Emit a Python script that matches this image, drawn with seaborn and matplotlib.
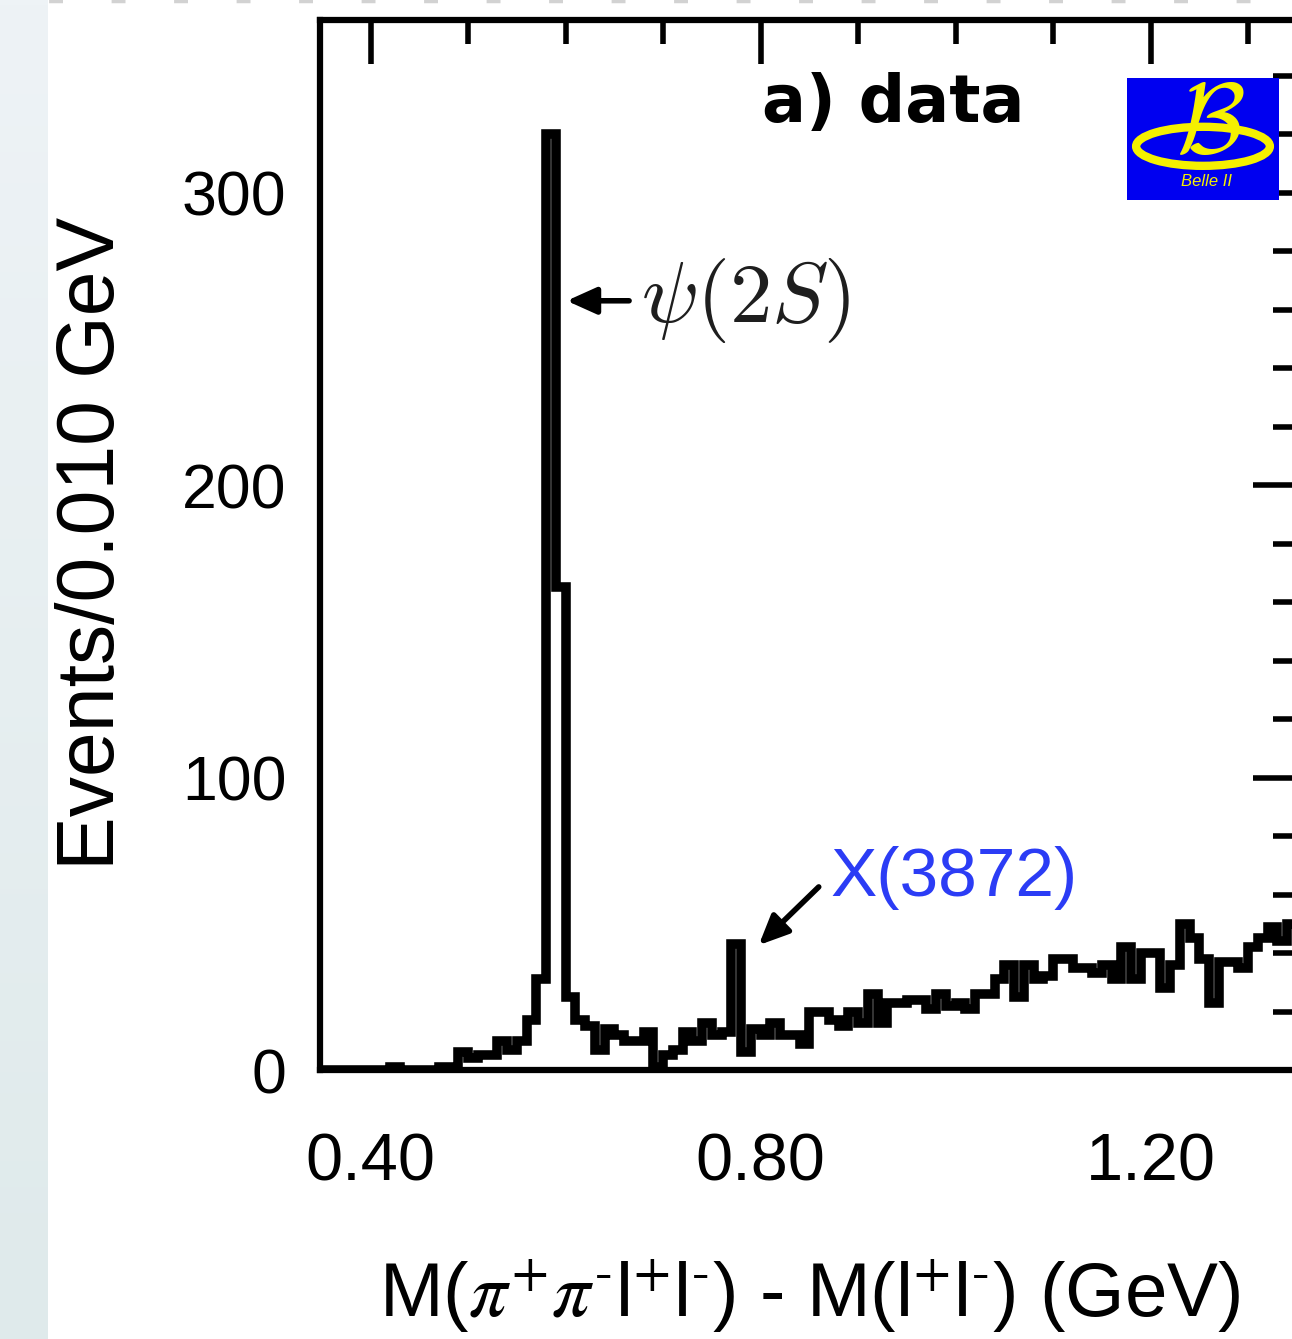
import numpy as np
import pandas as pd
import matplotlib
matplotlib.use("Agg")
import matplotlib.pyplot as plt
import seaborn as sns
from matplotlib.patches import Rectangle, Ellipse
from matplotlib.lines import Line2D
from matplotlib.ticker import MultipleLocator, FixedLocator
from matplotlib.colors import LinearSegmentedColormap

# ---------------- data ----------------
bin_start = 0.35
bin_width = 0.01
counts = [
    0, 0, 0, 0, 0, 0, 0, 1, 0, 0,          # 0.35 - 0.44
    0, 0, 1, 0, 6, 4, 5, 5, 10, 7,         # 0.45 - 0.54
    10, 17, 31, 320, 165, 25, 17, 15, 7, 14,   # 0.55 - 0.64
    12, 10, 10, 13, 1, 5, 7, 13, 10, 16,   # 0.65 - 0.74
    12, 13, 43, 6, 14, 12, 16, 12, 12, 9,  # 0.75 - 0.84
    20, 20, 17, 15, 20, 16, 26, 16, 23, 23,  # 0.85 - 0.94
    24, 24, 21, 26, 22, 23, 21, 26, 26, 31,  # 0.95 - 1.04
    36, 25, 36, 31, 32, 38, 38, 35, 35, 33,  # 1.05 - 1.14
    36, 31, 42, 31, 40, 40, 28, 36, 50, 45,  # 1.15 - 1.24
    38, 23, 37, 37, 35, 42, 45, 49, 44, 50,  # 1.25 - 1.34
]
x_tick_values = [0.40, 0.80, 1.20]
x_tick_labels = ["0.40", "0.80", "1.20"]
y_tick_values = [0, 100, 200, 300]
y_tick_labels = ["0", "100", "200", "300"]
psi_label = r"$\psi(2S)$"
x_label_text = "X(3872)"
panel_label = "a) data"
y_axis_label = "Events/0.010 GeV"
x_axis_label = (r"M($\pi^{+}\pi^{\text{-}}$l$^{+}$l$^{\text{-}}$) - "
                r"M(l$^{+}$l$^{\text{-}}$) (GeV)")

edges = [round(bin_start + bin_width * i, 3) for i in range(len(counts) + 1)]
centers = [e + bin_width / 2 for e in edges[:-1]]
df = pd.DataFrame({"mass": centers, "events": counts})

# ---------------- style ----------------
sns.set_style("white")
plt.rcParams["font.family"] = ["Liberation Sans", "DejaVu Sans"]
plt.rcParams["mathtext.fontset"] = "custom"
plt.rcParams["mathtext.rm"] = "Liberation Sans"
plt.rcParams["mathtext.it"] = "Liberation Sans:italic"
plt.rcParams["mathtext.bf"] = "Liberation Sans:bold"
plt.rcParams["text.color"] = "black"
plt.rcParams["axes.labelcolor"] = "black"
plt.rcParams["xtick.color"] = "black"
plt.rcParams["ytick.color"] = "black"
plt.rcParams["xtick.labelcolor"] = "black"
plt.rcParams["ytick.labelcolor"] = "black"

W, H = 1292, 1339
fig = plt.figure(figsize=(W / 100, H / 100), dpi=100)
fig.patch.set_facecolor("white")

# slide background strip on the left
bg = fig.add_axes([0, 0, 48 / W, 1])
grad = np.linspace(0, 1, 256).reshape(-1, 1)
cm_bg = LinearSegmentedColormap.from_list("bg", ["#dfeaeb", "#eef3f6"])
bg.imshow(grad, aspect="auto", cmap=cm_bg, origin="lower", extent=[0, 1, 0, 1])
bg.set_axis_off()

# dotted decoration at the very top
fig.add_artist(Line2D([0, 1], [1 - 1.0 / H, 1 - 1.0 / H], transform=fig.transFigure,
                      color="#d2d2d2", lw=2.5, linestyle=(4, (4, 14))))

ax = fig.add_axes([320 / W, (H - 1070) / H, 977 / W, 1050 / H])
ax.set_facecolor("white")

sns.histplot(data=df, x="mass", weights="events", bins=edges, element="step",
             fill=False, color="black", linewidth=6.9, ax=ax,
             solid_joinstyle="miter", solid_capstyle="butt")

ax.set_xlim(0.348, 1.35)
ax.set_ylim(0, 359)

# ticks
ax.xaxis.set_major_locator(FixedLocator(x_tick_values))
ax.set_xticklabels(x_tick_labels)
ax.xaxis.set_minor_locator(MultipleLocator(0.1))
ax.yaxis.set_major_locator(FixedLocator(y_tick_values))
ax.set_yticklabels(y_tick_labels)
ax.yaxis.set_minor_locator(MultipleLocator(20))

ax.tick_params(which="both", direction="in", top=True, right=True, color="black",
               labelcolor="black")
ax.tick_params(which="major", length=32, width=4.0)
ax.tick_params(which="minor", length=17, width=4.0)
ax.tick_params(axis="x", which="major", labelsize=48, pad=45)
ax.tick_params(axis="y", which="major", labelsize=45, pad=24)

for sp in ax.spines.values():
    sp.set_visible(True)
    sp.set_linewidth(4.5)
    sp.set_color("black")

ax.set_xlabel(x_axis_label, fontsize=55, math_fontfamily="stix", color="black")
ax.xaxis.set_label_coords(0.5015, -0.178)
ax.set_ylabel(y_axis_label, fontsize=58, color="black")
ax.yaxis.set_label_coords(-0.193, 0.502)

# panel label
ax.text(0.5865, 0.920, panel_label, transform=ax.transAxes, fontsize=47,
        fontweight="bold", family="DejaVu Sans", ha="center", va="center",
        color="black")

# psi(2S) annotation
ax.annotate("", xy=(0.601, 263), xytext=(0.665, 263),
            arrowprops=dict(arrowstyle="-|>,head_length=1.0,head_width=0.45",
                            mutation_scale=18, lw=4, color="black",
                            shrinkA=0, shrinkB=0))
ax.text(0.677, 263, psi_label, fontsize=61, color="#1e1e1e", ha="left", va="center",
        math_fontfamily="cm")

# X(3872) annotation
ax.annotate("", xy=(0.798, 42.7), xytext=(0.8595, 62.6),
            arrowprops=dict(arrowstyle="-|>,head_length=1.0,head_width=0.45",
                            mutation_scale=18, lw=4, color="black",
                            shrinkA=0, shrinkB=0))
ax.text(0.871, 65.5, x_label_text, fontsize=50, color="#2b3cf5", ha="left", va="center")

# Belle II logo
lx0, ly0, lw_, lh_ = (1127 - 320) / 977, (1070 - 200) / 1050, 152 / 977, 122 / 1050
ax.add_patch(Rectangle((lx0, ly0), lw_, lh_, transform=ax.transAxes,
                       facecolor="#0000f0", edgecolor="none", zorder=5, clip_on=False))
ax.add_patch(Ellipse((lx0 + lw_ * 0.5, ly0 + lh_ * 0.44), lw_ * 0.88, lh_ * 0.32,
                     transform=ax.transAxes, facecolor="none", edgecolor="#f5f000",
                     lw=6, zorder=6, clip_on=False))
ax.text(lx0 + lw_ * 0.55, ly0 + lh_ * 0.60, r"$\mathcal{B}$", transform=ax.transAxes,
        fontsize=72, color="#f5f000", ha="center", va="center", zorder=7,
        math_fontfamily="cm")
ax.text(lx0 + lw_ * 0.52, ly0 + lh_ * 0.15, "Belle II", transform=ax.transAxes,
        fontsize=12, color="#f5f000", style="italic", ha="center", va="center", zorder=7)

fig.savefig("out.png", dpi=100, facecolor="white")
